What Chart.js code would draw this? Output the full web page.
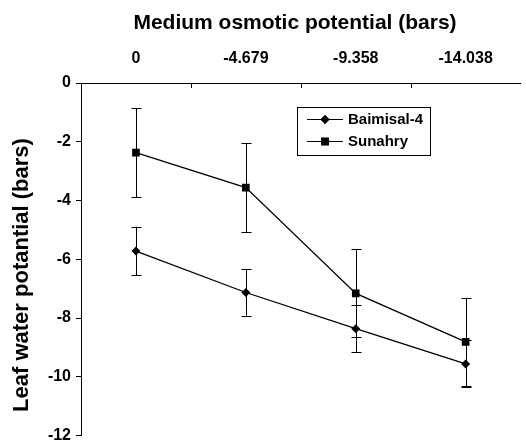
<!DOCTYPE html>
<html lang="en">
<head>
<meta charset="utf-8" />
<title>Leaf water potential</title>
<script src="https://cdn.jsdelivr.net/npm/chart.js@4.4"></script>
<style>
  html,body{margin:0;padding:0;background:#fff;}
  #wrap{width:526px;height:441px;position:relative;}
</style>
</head>
<body>
<div id="wrap"><canvas id="c"></canvas></div>
<script>
/***** ---------- Data ---------- *****/
const CATS       =['0','-4.679','-9.358','-14.038'];   // medium osmotic potential (bars)
const BAIMISAL   =[-5.72,-7.13,-8.36,-9.56];
const BAIMISAL_E =[0.83,0.79,0.79,0.80];
const SUNAHRY    =[-2.37,-3.56,-7.16,-8.81];
const SUNAHRY_E  =[1.51,1.51,1.50,1.49];
const Y_TICKS    =[0,-2,-4,-6,-8,-10,-12];

const FONT='"Liberation Sans",Arial,sans-serif';

/***** ---------- Plugins ---------- *****/
// vertical error bars with caps, under the markers
const errBars={
  id:'errBars',
  beforeDatasetsDraw(chart){
    const {ctx,scales:{x,y}}=chart;
    ctx.save();
    ctx.strokeStyle='#000';ctx.lineWidth=1;
    chart.data.datasets.forEach(ds=>{
      ds.data.forEach((v,i)=>{
        const px=Math.round(x.getPixelForValue(i))+0.5;
        const y1=y.getPixelForValue(v+ds.err[i]);
        const y2=y.getPixelForValue(v-ds.err[i]);
        ctx.beginPath();
        ctx.moveTo(px,y1);ctx.lineTo(px,y2);
        ctx.moveTo(px-5,Math.round(y1)+0.5);ctx.lineTo(px+5,Math.round(y1)+0.5);
        ctx.moveTo(px-5,Math.round(y2)+0.5);ctx.lineTo(px+5,Math.round(y2)+0.5);
        ctx.stroke();
      });
    });
    ctx.restore();
  }
};

// inward tick marks on the top category axis, at category boundaries
const topTicks={
  id:'topTicks',
  afterDraw(chart){
    const {ctx,scales:{x}}=chart;
    const n=x.ticks.length;
    const step=(x.right-x.left)/n;
    ctx.save();
    ctx.strokeStyle='#000';ctx.lineWidth=1;
    ctx.beginPath();
    for(let i=1;i<n;i++){
      const px=Math.round(x.left+i*step)+0.5;
      ctx.moveTo(px,x.bottom);ctx.lineTo(px,x.bottom+5);
    }
    ctx.stroke();
    ctx.restore();
  }
};

// axis titles
const titles={
  id:'titles',
  afterDraw(chart){
    const {ctx}=chart;
    ctx.save();
    ctx.fillStyle='#000';
    ctx.font='bold 21px '+FONT;
    ctx.textAlign='center';ctx.textBaseline='middle';
    ctx.fillText('Medium osmotic potential (bars)',295,23);
    ctx.translate(22,275);
    ctx.rotate(-Math.PI/2);
    ctx.font='bold 22px '+FONT;
    ctx.fillText('Leaf water potantial (bars)',0,0);
    ctx.restore();
  }
};

// boxed legend inside the plot
const boxLegend={
  id:'boxLegend',
  afterDraw(chart){
    const {ctx}=chart;
    const bx=297.5,by=107.5,bw=133,bh=48;
    ctx.save();
    ctx.strokeStyle='#000';ctx.lineWidth=1;
    ctx.strokeRect(bx,by,bw,bh);
    chart.data.datasets.forEach((ds,i)=>{
      const ly=119+i*22;
      ctx.beginPath();
      ctx.moveTo(307,ly+0.5);ctx.lineTo(343,ly+0.5);
      ctx.lineWidth=1.2;ctx.stroke();
      Chart.helpers.drawPoint(ctx,{pointStyle:ds.pointStyle,radius:ds.pointRadius,borderWidth:0},325,ly+0.5);
      ctx.fillStyle='#000';ctx.fill();
      ctx.font='bold 15px '+FONT;
      ctx.textAlign='left';ctx.textBaseline='middle';
      ctx.fillText(ds.label,348,ly+1);
    });
    ctx.restore();
  }
};

/***** ---------- Chart ---------- *****/
new Chart(document.getElementById('c'),{
  type:'line',
  data:{
    labels:CATS,
    datasets:[
      {label:'Baimisal-4',data:BAIMISAL,err:BAIMISAL_E,borderColor:'#000',backgroundColor:'#000',borderWidth:1.3,pointStyle:'rectRot',pointRadius:4.5,pointBorderWidth:0},
      {label:'Sunahry',data:SUNAHRY,err:SUNAHRY_E,borderColor:'#000',backgroundColor:'#000',borderWidth:1.3,pointStyle:'rect',pointRadius:5.4,pointBorderWidth:0}
    ]
  },
  options:{
    responsive:true,maintainAspectRatio:false,animation:false,
    layout:{padding:{left:0,top:0,right:1,bottom:5}},
    plugins:{legend:{display:false},tooltip:{enabled:false}},
    scales:{
      x:{
        type:'category',position:'top',offset:true,
        grid:{display:true,drawOnChartArea:false,drawTicks:false},
        border:{display:true,color:'#000',width:1},
        ticks:{color:'#000',padding:15,maxRotation:0,font:{family:FONT,size:16,weight:'bold'}},
        afterFit(s){s.height=83;s.paddingLeft=0;s.paddingRight=0;}
      },
      y:{
        min:-12,max:0,
        grid:{display:true,drawOnChartArea:false,drawTicks:true,tickLength:5,color:'#000'},
        border:{display:true,color:'#000',width:1},
        afterBuildTicks(s){s.ticks=Y_TICKS.map(v=>({value:v}));},
        ticks:{color:'#000',padding:5,font:{family:FONT,size:16,weight:'bold'}},
        afterFit(s){s.width=81;s.paddingTop=0;s.paddingBottom=0;}
      }
    }
  },
  plugins:[errBars,topTicks,titles,boxLegend]
});
</script>
</body>
</html>
